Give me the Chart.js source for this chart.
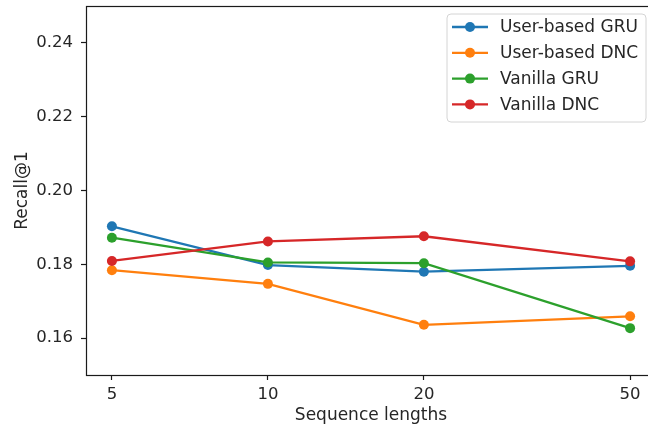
<!DOCTYPE html>
<html>
<head>
<meta charset="utf-8">
<script src="https://cdn.jsdelivr.net/npm/chart.js@4/dist/chart.umd.min.js"></script>
<style>
  html, body { margin: 0; padding: 0; overflow: hidden; background: #fff; }
  #wrap { position: relative; width: 680px; height: 433px; }
</style>
</head>
<body>
<div id="wrap"><canvas id="chart"></canvas></div>
<script>
// Sequence lengths on a log axis, Recall@1 per model
const seqLengths = [5, 10, 20, 50];
const userGRU = [0.1903, 0.1798, 0.1780, 0.1796];
const userDNC = [0.1784, 0.1747, 0.1636, 0.1659];
const vanillaGRU = [0.1872, 0.1805, 0.1803, 0.1627];
const vanillaDNC = [0.1809, 0.1862, 0.1876, 0.1808];
const seriesNames = ['User-based GRU', 'User-based DNC', 'Vanilla GRU', 'Vanilla DNC'];
const seriesColors = ['#1f77b4', '#ff7f0e', '#2ca02c', '#d62728'];
const yTicks = [0.16, 0.18, 0.20, 0.22, 0.24];

const seriesValues = [userGRU, userDNC, vanillaGRU, vanillaDNC];
const FONT = '"DejaVu Sans", "Liberation Sans", sans-serif';
const TEXT = '#262626';
const TICK_SIZE = 16.5;
const LABEL_SIZE = 17;

// 5% padding in log space on each side of the data range
const xMin = seqLengths[0] * Math.pow(10, -0.05);
const xMax = seqLengths[seqLengths.length - 1] * Math.pow(10, 0.05);

const datasets = seriesValues.map((vals, i) => ({
  label: seriesNames[i],
  data: seqLengths.map((x, j) => ({ x: x, y: vals[j] })),
  borderColor: seriesColors[i],
  backgroundColor: seriesColors[i],
  borderWidth: 2.3,
  pointRadius: 5,
  pointBorderWidth: 0,
  pointBackgroundColor: seriesColors[i],
  tension: 0,
  order: seriesValues.length - i
}));

// Axes frame on all four sides
const framePlugin = {
  id: 'frame',
  afterDatasetsDraw(chart) {
    const { ctx, chartArea: a } = chart;
    ctx.save();
    ctx.strokeStyle = '#1a1a1a';
    ctx.lineWidth = 1.2;
    ctx.strokeRect(Math.round(a.left) + 0.5, Math.round(a.top) + 0.5,
      Math.round(a.right - a.left), Math.round(a.bottom - a.top));
    ctx.restore();
  }
};

// Legend boxed in the upper right corner of the plot
const boxLegend = {
  id: 'boxLegend',
  afterDraw(chart) {
    const { ctx } = chart;
    const x0 = 447, y0 = 14, w = 199, h = 108, r = 4;
    ctx.save();
    ctx.beginPath();
    ctx.moveTo(x0 + r, y0);
    ctx.lineTo(x0 + w - r, y0);
    ctx.arcTo(x0 + w, y0, x0 + w, y0 + r, r);
    ctx.lineTo(x0 + w, y0 + h - r);
    ctx.arcTo(x0 + w, y0 + h, x0 + w - r, y0 + h, r);
    ctx.lineTo(x0 + r, y0 + h);
    ctx.arcTo(x0, y0 + h, x0, y0 + h - r, r);
    ctx.lineTo(x0, y0 + r);
    ctx.arcTo(x0, y0, x0 + r, y0, r);
    ctx.closePath();
    ctx.fillStyle = 'rgba(255,255,255,0.85)';
    ctx.fill();
    ctx.strokeStyle = '#d4d4d4';
    ctx.lineWidth = 1;
    ctx.stroke();

    ctx.font = LABEL_SIZE + 'px ' + FONT;
    ctx.textBaseline = 'middle';
    ctx.textAlign = 'left';
    seriesNames.forEach((name, i) => {
      const cy = 27 + i * 25.8;
      ctx.strokeStyle = seriesColors[i];
      ctx.lineWidth = 2.3;
      ctx.beginPath();
      ctx.moveTo(452, cy);
      ctx.lineTo(488, cy);
      ctx.stroke();
      ctx.fillStyle = seriesColors[i];
      ctx.beginPath();
      ctx.arc(470, cy, 5, 0, Math.PI * 2);
      ctx.fill();
      ctx.fillStyle = TEXT;
      ctx.fillText(name, 500, cy + 1);
    });
    ctx.restore();
  }
};

new Chart(document.getElementById('chart'), {
  type: 'line',
  data: { datasets: datasets },
  options: {
    responsive: true,
    maintainAspectRatio: false,
    animation: false,
    layout: { padding: { top: 6, right: 24, bottom: 0, left: 0 } },
    plugins: {
      legend: { display: false },
      tooltip: { enabled: false }
    },
    scales: {
      x: {
        type: 'logarithmic',
        min: xMin,
        max: xMax,
        afterBuildTicks(scale) {
          scale.ticks = seqLengths.map(v => ({ value: v }));
        },
        afterFit(scale) {
          scale.height = 58;
          scale.paddingLeft = 0;
          scale.paddingRight = 0;
        },
        ticks: {
          autoSkip: false,
          maxRotation: 0,
          padding: 5,
          color: TEXT,
          font: { family: FONT, size: TICK_SIZE },
          callback: (v) => String(v)
        },
        grid: {
          display: true,
          drawOnChartArea: false,
          drawTicks: true,
          tickLength: 5,
          color: '#1a1a1a',
          tickWidth: 1.2
        },
        border: { display: false },
        title: {
          display: true,
          text: 'Sequence lengths',
          color: TEXT,
          font: { family: FONT, size: LABEL_SIZE },
          padding: { top: 0, bottom: 7 }
        }
      },
      y: {
        type: 'linear',
        min: 0.15,
        max: 0.25,
        afterBuildTicks(scale) {
          scale.ticks = yTicks.map(v => ({ value: v }));
        },
        afterFit(scale) {
          scale.width = 86;
          scale.paddingTop = 0;
          scale.paddingBottom = 0;
        },
        ticks: {
          padding: 8,
          color: TEXT,
          font: { family: FONT, size: TICK_SIZE },
          callback: (v) => Number(v).toFixed(2)
        },
        grid: {
          display: true,
          drawOnChartArea: false,
          drawTicks: true,
          tickLength: 5,
          color: '#1a1a1a',
          tickWidth: 1.2
        },
        border: { display: false },
        title: {
          display: true,
          text: 'Recall@1',
          color: TEXT,
          font: { family: FONT, size: LABEL_SIZE },
          padding: { top: 12, bottom: 0 }
        }
      }
    }
  },
  plugins: [framePlugin, boxLegend]
});
</script>
</body>
</html>
